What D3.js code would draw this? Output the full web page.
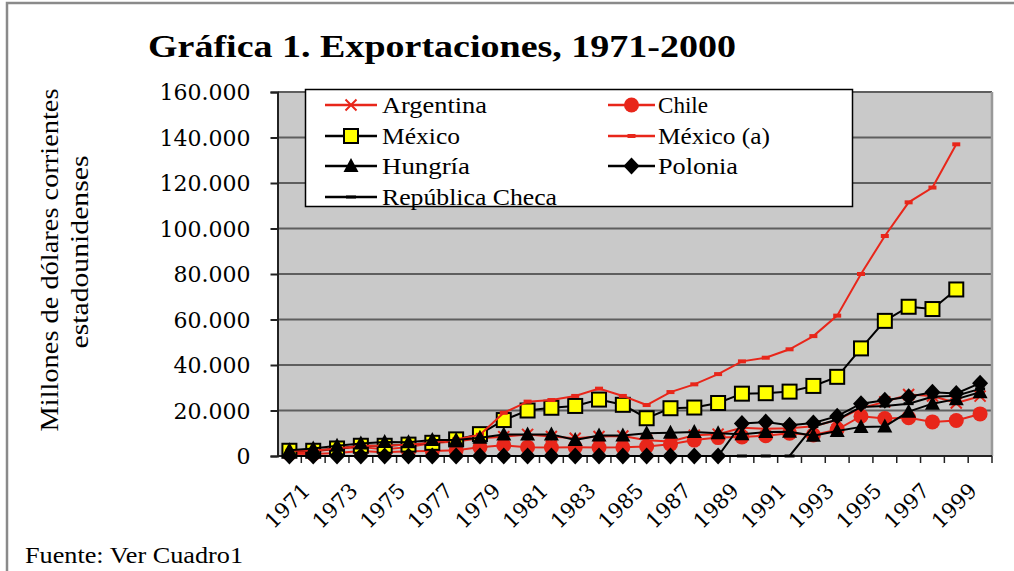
<!DOCTYPE html>
<html>
<head>
<meta charset="utf-8">
<script src="https://cdn.jsdelivr.net/npm/d3@7"></script>
<style>
  body { margin: 0; background: #fff; }
  svg { display: block; }
  .serif { font-family: "Liberation Serif", "Times New Roman", Times, serif; }
  .wide { font-family: "DejaVu Serif", Georgia, serif; }
</style>
</head>
<body>
<div id="chart"></div>
<script>
// categories and tick labels
var years = [1971, 1972, 1973, 1974, 1975, 1976, 1977, 1978, 1979, 1980,
             1981, 1982, 1983, 1984, 1985, 1986, 1987, 1988, 1989, 1990,
             1991, 1992, 1993, 1994, 1995, 1996, 1997, 1998, 1999, 2000];
var tickYears = [1971, 1973, 1975, 1977, 1979, 1981, 1983, 1985, 1987, 1989,
                 1991, 1993, 1995, 1997, 1999];
var yTicks = [0, 20000, 40000, 60000, 80000, 100000, 120000, 140000, 160000];

// series values (millones de dolares)
var argentina = [1700, 1900, 3300, 3900, 3000, 3900, 5700, 6400, 7800, 8500,
                 9500, 8600, 7800, 8600, 8800, 6900, 6400, 9100, 9600, 12400,
                 12000, 12200, 13100, 15800, 21000, 23800, 27000, 26400, 23300, 26300];
var chile = [1000, 900, 1300, 2200, 1600, 2100, 2200, 2500, 3800, 4700,
             3900, 3700, 3800, 3700, 3800, 4200, 5200, 7000, 8100, 8400,
             8900, 10000, 9200, 11600, 17500, 16500, 16800, 15000, 15600, 18500];
var mexico = [2300, 2300, 3300, 4500, 4500, 5000, 5800, 7300, 9600, 15800,
              20000, 21200, 22000, 24800, 22500, 16600, 21000, 21300, 23300, 27400,
              27600, 28300, 30800, 34800, 47300, 59400, 65600, 64600, 73200, null];
var mexicoA = [2300, 2300, 3300, 4500, 4500, 5000, 5800, 7300, 9300, 19000,
               23900, 24600, 26400, 29600, 26400, 22400, 28100, 31500, 36000, 41600,
               43200, 46900, 52700, 61700, 80000, 96700, 111500, 118000, 137000, null];
var hungria = [2500, 3300, 4500, 5500, 6100, 6000, 7000, 7000, 8000, 9500,
               9500, 9500, 7000, 9000, 9000, 10000, 10200, 10500, 10000, 9600,
               10500, 10700, 8900, 11000, 12800, 13000, 19500, 23000, 25000, 28000];
var polonia = [0, 0, 0, 0, 0, 0, 0, 0, 0, 0,
               0, 0, 0, 0, 0, 0, 0, 0, 0, 14300,
               14900, 13500, 14500, 17500, 23000, 24500, 26000, 28000, 27500, 32000];
var checa = [0, 0, 0, 0, 0, 0, 0, 0, 0, 0,
             0, 0, 0, 0, 0, 0, 0, 0, 0, 0,
             0, 0, 13000, 16000, 21500, 22000, 23000, 26000, 26500, 29500];

((() => {

  var width = 1014,
      height = 571;

  var red = "#e8261a";

  var margin = {top: 92, right: 22, bottom: 115, left: 277.5};

  var svg = d3.select("#chart")
    .append("svg")
    .attr("width", width)
    .attr("height", height);

  // outer frame (only top and left edge show)
  svg.append("path")
    .attr("d", "M7,571V3H1014")
    .attr("fill", "none")
    .attr("stroke", "#8a8a8a")
    .attr("stroke-width", 2.5);

  var x = d3.scaleBand()
    .domain(years)
    .range([margin.left, width - margin.right])
    .padding(0);

  var y = d3.scaleLinear()
    .domain([0, 160000])
    .range([height - margin.bottom, margin.top]);

  var fmt = d3.formatLocale({decimal: ",", thousands: ".", grouping: [3], currency: ["", ""]}).format(",");

  // plot background
  svg.append("rect")
    .attr("x", margin.left)
    .attr("y", margin.top)
    .attr("width", x.range()[1] - margin.left)
    .attr("height", y(0) - margin.top)
    .attr("fill", "#c9c9c9");

  // gridlines
  svg.append("g")
    .selectAll("line")
    .data(yTicks.slice(1))
    .enter()
    .append("line")
    .attr("x1", margin.left)
    .attr("x2", x.range()[1])
    .attr("y1", d => y(d))
    .attr("y2", d => y(d))
    .attr("stroke", "#5e5e5e")
    .attr("stroke-width", 2);

  // right edge of plot
  svg.append("line")
    .attr("x1", x.range()[1]).attr("x2", x.range()[1])
    .attr("y1", margin.top).attr("y2", y(0))
    .attr("stroke", "#999")
    .attr("stroke-width", 2.5);

  // y axis
  var yAxis = svg.append("g")
    .attr("transform", "translate(" + margin.left + ",0)")
    .call(d3.axisLeft(y).tickValues(yTicks).tickFormat(fmt).tickSizeOuter(0).tickSize(7).tickPadding(20));
  yAxis.select(".domain").attr("stroke", "#222").attr("stroke-width", 2);
  yAxis.selectAll(".tick line").attr("stroke", "#222").attr("stroke-width", 2);
  yAxis.selectAll("text")
    .attr("fill", "#000")
    .attr("class", "wide")
    .attr("font-family", null)
    .attr("font-size", "22px")
    .attr("dy", "0.36em");

  // x axis: ticks sit on category boundaries
  var xAxisG = svg.append("g");
  xAxisG.append("line")
    .attr("x1", margin.left).attr("x2", x.range()[1])
    .attr("y1", y(0)).attr("y2", y(0))
    .attr("stroke", "#222").attr("stroke-width", 2);
  xAxisG.selectAll(".tk")
    .data(years)
    .enter()
    .append("line")
    .attr("x1", d => x(d) + x.bandwidth()).attr("x2", d => x(d) + x.bandwidth())
    .attr("y1", y(0)).attr("y2", y(0) + 7)
    .attr("stroke", "#222").attr("stroke-width", 1.5);
  xAxisG.selectAll(".lbl")
    .data(tickYears)
    .enter()
    .append("text")
    .attr("class", "wide")
    .attr("transform", d => "translate(" + (x(d) + x.bandwidth() / 2 + 22) + "," + (y(0) + 36) + ") rotate(-45)")
    .attr("text-anchor", "end")
    .attr("font-size", "21px")
    .text(d => d);

  // series
  var crossPath = "M-5.5,-5.5L5.5,5.5M-5.5,5.5L5.5,-5.5";
  var series = [
    {name: "Argentina", values: argentina, line: red, marker: "cross"},
    {name: "Chile", values: chile, line: red, marker: "circle"},
    {name: "México", values: mexico, line: "#000", marker: "square"},
    {name: "México (a)", values: mexicoA, line: red, marker: "dash"},
    {name: "Hungría", values: hungria, line: "#000", marker: "triangle"},
    {name: "Polonia", values: polonia, line: "#000", marker: "diamond"},
    {name: "República Checa", values: checa, line: "#000", marker: "bar"}
  ];

  function drawMarker(g, kind) {
    if (kind === "cross") {
      g.append("path").attr("d", crossPath).attr("stroke", red).attr("stroke-width", 2).attr("fill", "none");
    } else if (kind === "circle") {
      g.append("circle").attr("r", 7.5).attr("fill", red);
    } else if (kind === "square") {
      g.append("rect").attr("x", -7).attr("y", -7).attr("width", 14).attr("height", 14)
        .attr("fill", "#ffff00").attr("stroke", "#000").attr("stroke-width", 2);
    } else if (kind === "dash") {
      g.append("rect").attr("x", -4).attr("y", -2).attr("width", 8).attr("height", 4).attr("fill", red);
    } else if (kind === "triangle") {
      g.append("path").attr("d", "M0,-8L7.5,6L-7.5,6Z").attr("fill", "#000");
    } else if (kind === "diamond") {
      g.append("path").attr("d", "M0,-8.5L8,0L0,8.5L-8,0Z").attr("fill", "#000");
    } else if (kind === "bar") {
      g.append("rect").attr("x", -5).attr("y", -1.5).attr("width", 10).attr("height", 3).attr("fill", "#000");
    }
  }

  var line = d3.line()
    .defined(d => d.v != null)
    .x(d => x(d.year) + x.bandwidth() / 2)
    .y(d => y(d.v));

  series.forEach(function(s) {
    var pts = years.map((yr, i) => ({year: yr, v: s.values[i]}));
    var g = svg.append("g");
    g.append("path")
      .datum(pts)
      .attr("d", line)
      .attr("fill", "none")
      .attr("stroke", s.line)
      .attr("stroke-width", 2);
    g.selectAll("g.m")
      .data(pts.filter(d => d.v != null))
      .enter()
      .append("g")
      .attr("transform", d => "translate(" + (x(d.year) + x.bandwidth() / 2) + "," + y(d.v) + ")")
      .each(function() { drawMarker(d3.select(this), s.marker); });
  });

  // legend
  var legend = svg.append("g");
  legend.append("rect")
    .attr("x", 305.5).attr("y", 89.5)
    .attr("width", 547).attr("height", 117)
    .attr("fill", "#fff")
    .attr("stroke", "#000")
    .attr("stroke-width", 1.5);
  var rows = [105, 136, 166, 197];
  var cols = [{x1: 325, x2: 377, tx: 382}, {x1: 608, x2: 655, tx: 658}];
  var textWidths = [105, 50, 78, 112, 88, 80, 175];
  series.forEach(function(s, i) {
    var c = cols[i % 2], ry = rows[Math.floor(i / 2)];
    var item = legend.append("g");
    item.append("line")
      .attr("x1", c.x1).attr("x2", c.x2)
      .attr("y1", ry).attr("y2", ry)
      .attr("stroke", s.line).attr("stroke-width", 2.5);
    var m = item.append("g").attr("transform", "translate(" + ((c.x1 + c.x2) / 2) + "," + ry + ")");
    drawMarker(m, s.marker);
    item.append("text")
      .attr("class", "serif")
      .attr("x", c.tx).attr("y", ry + 8)
      .attr("textLength", textWidths[i])
      .attr("lengthAdjust", "spacingAndGlyphs")
      .attr("font-size", "24px")
      .text(s.name);
  });

  // title
  svg.append("text")
    .attr("class", "serif")
    .attr("x", 148).attr("y", 57)
    .attr("textLength", 588)
    .attr("lengthAdjust", "spacingAndGlyphs")
    .attr("font-weight", "bold")
    .attr("font-size", "32px")
    .text("Gráfica 1. Exportaciones, 1971-2000");

  // y axis title
  var yTitle = svg.append("g")
    .attr("class", "serif")
    .attr("transform", "translate(0,260) rotate(-90)")
    .attr("font-size", "26px")
    .attr("text-anchor", "middle");
  yTitle.append("text").attr("x", 0).attr("y", 58).attr("textLength", 343).attr("lengthAdjust", "spacingAndGlyphs")
    .text("Millones  de dólares corrientes");
  yTitle.append("text").attr("x", 8).attr("y", 88).attr("textLength", 193).attr("lengthAdjust", "spacingAndGlyphs")
    .text("estadounidenses");

  // source note
  svg.append("text")
    .attr("class", "serif")
    .attr("x", 25).attr("y", 563)
    .attr("textLength", 218)
    .attr("lengthAdjust", "spacingAndGlyphs")
    .attr("font-size", "24px")
    .text("Fuente: Ver Cuadro1");

})());
</script>
</body>
</html>
